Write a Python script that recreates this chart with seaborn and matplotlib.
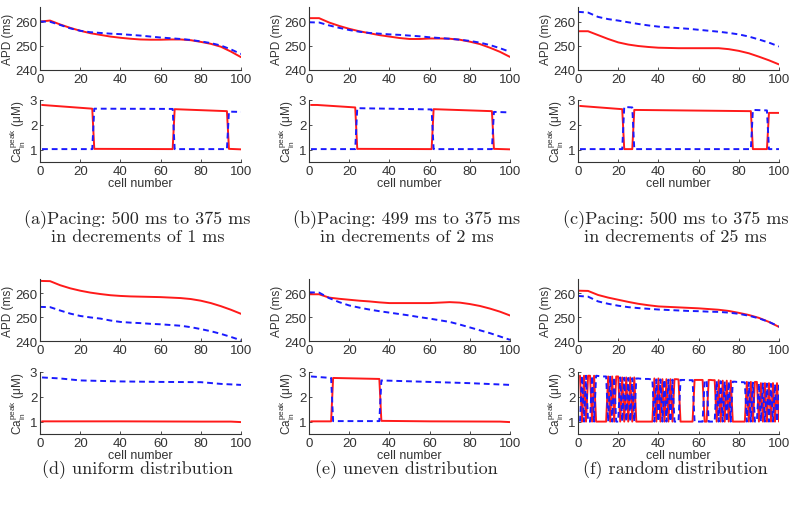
import numpy as np
import matplotlib
matplotlib.use("Agg")
import matplotlib.pyplot as plt
import seaborn as sns

# APD curves, sampled every 5 cells
apd_x = [0, 5, 10, 15, 20, 25, 30, 35, 40, 45, 50, 55, 60, 65, 70, 75, 80, 85, 90, 95, 100]

apd_a_red = [260.0, 260.4, 258.8, 257.4, 256.2, 255.2, 254.5, 253.8, 253.3, 252.9, 252.6,
             252.5, 252.5, 252.6, 252.6, 252.3, 251.6, 250.8, 249.6, 247.6, 245.3]
apd_a_blue = [260.0, 259.9, 258.6, 257.2, 256.2, 255.6, 255.3, 255.0, 254.8, 254.5, 254.2,
              253.8, 253.4, 253.1, 252.8, 252.4, 251.8, 251.1, 250.1, 248.5, 246.6]

apd_b_red = [261.4, 261.4, 259.6, 258.2, 257.0, 256.0, 255.2, 254.4, 253.8, 253.2, 252.8,
             252.8, 253.0, 253.0, 252.9, 252.5, 251.7, 250.7, 249.2, 247.5, 245.4]
apd_b_blue = [259.7, 259.6, 258.4, 257.4, 256.5, 255.8, 255.3, 255.0, 254.7, 254.5, 254.2,
              253.9, 253.5, 253.2, 252.9, 252.5, 252.0, 251.3, 250.3, 249.0, 247.5]

apd_c_red = [256.0, 256.0, 254.4, 252.8, 251.4, 250.5, 249.9, 249.5, 249.2, 249.1, 249.0,
             249.0, 249.0, 249.0, 249.0, 248.6, 247.9, 246.9, 245.5, 244.0, 242.3]
apd_c_blue = [264.0, 263.7, 261.9, 261.0, 260.4, 259.7, 259.0, 258.4, 257.9, 257.6, 257.3,
              257.0, 256.6, 256.2, 255.8, 255.3, 254.7, 253.8, 252.6, 251.3, 249.7]

apd_d_red = [265.2, 265.1, 263.4, 262.1, 261.1, 260.3, 259.7, 259.2, 258.9, 258.7, 258.6,
             258.5, 258.4, 258.2, 258.0, 257.6, 256.9, 255.9, 254.6, 253.1, 251.4]
apd_d_blue = [254.3, 254.2, 252.8, 251.5, 250.5, 249.9, 249.4, 248.6, 248.0, 247.7, 247.5,
              247.2, 247.0, 246.7, 246.4, 245.8, 245.0, 244.1, 243.0, 241.7, 240.3]

apd_e_red = [259.6, 259.6, 258.2, 257.7, 257.3, 256.9, 256.6, 256.2, 255.9, 255.9, 255.9,
             255.9, 255.9, 256.1, 256.3, 256.1, 255.5, 254.7, 253.6, 252.3, 250.7]
apd_e_blue = [260.4, 260.3, 258.0, 256.3, 254.9, 254.0, 253.2, 252.5, 251.9, 251.3, 250.7,
              250.0, 249.4, 248.7, 248.0, 246.9, 245.7, 244.5, 243.3, 241.9, 240.5]

apd_f_red = [261.1, 261.0, 259.3, 258.2, 257.3, 256.4, 255.6, 255.0, 254.5, 254.3, 254.1,
             253.9, 253.7, 253.4, 253.1, 252.6, 251.8, 250.9, 249.7, 248.0, 245.9]
apd_f_blue = [258.9, 258.6, 256.6, 255.6, 254.8, 254.2, 253.8, 253.5, 253.2, 253.0, 252.8,
              252.6, 252.5, 252.3, 252.2, 251.9, 251.4, 250.6, 249.5, 248.0, 246.1]

# Ca peak curves, given at the break points of the steps
ca_a_red_x = [1, 26, 27, 66, 67, 93, 94, 100]
ca_a_red = [2.8, 2.65, 1.03, 1.02, 2.63, 2.55, 1.03, 1.01]
ca_a_blue_x = [1, 26, 27, 66, 67, 93, 94, 100]
ca_a_blue = [1.02, 1.02, 2.65, 2.64, 1.02, 1.02, 2.53, 2.52]

ca_b_red_x = [1, 4, 23, 24, 61, 62, 91, 92, 100]
ca_b_red = [2.8, 2.8, 2.7, 1.03, 1.02, 2.63, 2.55, 1.03, 1.01]
ca_b_blue_x = [1, 23, 24, 61, 62, 91, 92, 100]
ca_b_blue = [1.02, 1.02, 2.67, 2.62, 1.02, 1.02, 2.52, 2.5]

ca_c_red_x = [1, 22, 23, 27, 28, 86, 87, 94, 95, 100]
ca_c_red = [2.76, 2.63, 1.02, 1.02, 2.6, 2.55, 1.02, 1.02, 2.48, 2.48]
ca_c_blue_x = [1, 22, 23, 27, 28, 86, 87, 94, 95, 100]
ca_c_blue = [1.02, 1.02, 2.72, 2.7, 1.02, 1.02, 2.6, 2.58, 1.02, 1.02]

ca_d_red_x = [1, 40, 80, 95, 100]
ca_d_red = [1.01, 1.01, 1.0, 1.0, 0.98]
ca_d_blue_x = [1, 10, 20, 40, 60, 80, 90, 100]
ca_d_blue = [2.78, 2.74, 2.66, 2.62, 2.6, 2.59, 2.52, 2.48]

ca_e_red_x = [1, 11, 12, 35, 36, 60, 95, 100]
ca_e_red = [1.01, 1.01, 2.76, 2.72, 1.03, 1.01, 1.0, 0.98]
ca_e_blue_x = [1, 11, 12, 35, 36, 60, 80, 100]
ca_e_blue = [2.82, 2.76, 1.02, 1.02, 2.66, 2.6, 2.55, 2.48]

ca_f_x = list(range(1, 101))
ca_f_red = [2.85, 1.0, 2.85, 1.0, 2.85, 2.85, 1.0, 2.85, 1.0, 1.0,
            1.0, 1.0, 1.0, 1.0, 2.82, 1.0, 2.82, 1.0, 2.82, 2.82,
            1.0, 2.78, 1.0, 2.78, 1.0, 2.78, 1.0, 2.78, 1.0, 1.0,
            1.0, 1.0, 1.0, 1.0, 1.0, 1.0, 1.0, 2.74, 1.0, 2.74,
            1.0, 2.71, 1.0, 2.71, 1.0, 2.71, 1.0, 2.71, 2.71, 2.7,
            1.0, 1.0, 1.0, 1.0, 1.0, 1.0, 1.0, 2.68, 2.68, 2.68,
            2.68, 2.68, 1.0, 1.0, 2.68, 2.68, 2.67, 2.67, 1.0, 2.67,
            1.0, 2.65, 1.0, 2.65, 1.0, 2.65, 1.0, 1.0, 1.0, 1.0,
            1.0, 1.0, 1.0, 2.6, 1.0, 2.6, 1.0, 2.6, 2.6, 1.0,
            2.55, 1.0, 2.55, 1.0, 2.55, 1.0, 2.55, 1.0, 2.55, 1.0]
ca_f_blue = [1.0, 2.85, 1.0, 2.85, 1.0, 1.0, 2.85, 1.0, 2.85, 2.84,
             2.83, 2.82, 2.82, 2.82, 1.0, 2.81, 1.0, 2.8, 1.0, 1.0,
             2.78, 1.0, 2.77, 1.0, 2.76, 1.0, 2.75, 1.0, 2.74, 2.74,
             2.73, 2.73, 2.72, 2.72, 2.72, 2.71, 2.71, 1.0, 2.7, 1.0,
             2.7, 1.0, 2.7, 1.0, 2.69, 1.0, 2.69, 1.0, 1.0, 1.0,
             2.68, 2.68, 2.68, 2.67, 2.67, 2.67, 2.67, 1.0, 1.0, 1.0,
             1.0, 1.0, 2.66, 2.66, 1.0, 1.0, 1.0, 1.0, 2.64, 1.0,
             2.63, 1.0, 2.62, 1.0, 2.62, 1.0, 2.61, 2.61, 2.6, 2.6,
             2.59, 2.59, 2.58, 1.0, 2.58, 1.0, 2.57, 1.0, 1.0, 2.55,
             1.0, 2.54, 1.0, 2.53, 1.0, 2.52, 1.0, 2.51, 1.0, 2.5]

captions = ["(a)Pacing: 500 ms to 375 ms\nin decrements of 1 ms",
            "(b)Pacing: 499 ms to 375 ms\nin decrements of 2 ms",
            "(c)Pacing: 500 ms to 375 ms\nin decrements of 25 ms",
            "(d) uniform distribution",
            "(e) uneven distribution",
            "(f) random distribution"]

panels = [
    (apd_a_red, apd_a_blue, ca_a_red_x, ca_a_red, ca_a_blue_x, ca_a_blue),
    (apd_b_red, apd_b_blue, ca_b_red_x, ca_b_red, ca_b_blue_x, ca_b_blue),
    (apd_c_red, apd_c_blue, ca_c_red_x, ca_c_red, ca_c_blue_x, ca_c_blue),
    (apd_d_red, apd_d_blue, ca_d_red_x, ca_d_red, ca_d_blue_x, ca_d_blue),
    (apd_e_red, apd_e_blue, ca_e_red_x, ca_e_red, ca_e_blue_x, ca_e_blue),
    (apd_f_red, apd_f_blue, ca_f_x, ca_f_red, ca_f_x, ca_f_blue),
]

sns.set_style("ticks")
plt.rcParams["font.family"] = ["Liberation Sans", "DejaVu Sans"]
plt.rcParams["mathtext.fontset"] = "custom"
plt.rcParams["mathtext.rm"] = "Liberation Sans"

fig = plt.figure(figsize=(8, 5.1), dpi=100)

col_left = [40, 309, 578]
ax_w = 201
# (top of APD axes, bottom of APD axes, top of Ca axes, bottom of Ca axes) in pixels
row_y = [(8, 71, 101, 163), (280, 342, 373, 435)]
cap_y = [228, 470]

W, H = 800.0, 510.0
txt = "#333333"

def style_axes(ax):
    sns.despine(ax=ax)
    ax.set_xlim(0, 100)
    ax.set_xticks([0, 20, 40, 60, 80, 100])
    ax.tick_params(direction="in", length=2, labelsize=9.5, width=0.6,
                   colors="#333333", labelcolor=txt)
    ax.tick_params(axis="x", pad=2)
    ax.tick_params(axis="y", pad=2)
    for s in ["left", "bottom"]:
        ax.spines[s].set_linewidth(0.8)
        ax.spines[s].set_color("#333333")

for i, (r_apd, b_apd, rx, r_ca, bx, b_ca) in enumerate(panels):
    row, col = divmod(i, 3)
    t1, b1, t2, b2 = row_y[row]
    x0 = col_left[col]

    ax1 = fig.add_axes([x0 / W, 1 - b1 / H, ax_w / W, (b1 - t1) / H])
    sns.lineplot(x=apd_x, y=r_apd, ax=ax1, color="#ff1a1a", lw=1.4)
    sns.lineplot(x=apd_x, y=b_apd, ax=ax1, color="#1a1aff", lw=1.4, linestyle=(0, (3, 2)))
    style_axes(ax1)
    ax1.set_ylim(240, 266)
    ax1.set_yticks([240, 250, 260])
    ax1.set_ylabel("APD (ms)", fontsize=8.5, labelpad=1, color=txt)

    ax2 = fig.add_axes([x0 / W, 1 - b2 / H, ax_w / W, (b2 - t2) / H])
    sns.lineplot(x=rx, y=r_ca, ax=ax2, color="#ff1a1a", lw=1.4, sort=False)
    sns.lineplot(x=bx, y=b_ca, ax=ax2, color="#1a1aff", lw=1.4, linestyle=(0, (3, 2)), sort=False)
    style_axes(ax2)
    ax2.set_ylim(0.5, 3)
    ax2.set_yticks([1, 2, 3])
    ax2.set_ylabel(r"Ca$_{\rm in}^{\rm peak}$ (μM)", fontsize=8.5, labelpad=1, color=txt)
    ax2.set_xlabel("cell number", fontsize=9, labelpad=0, color=txt)

    fig.text((x0 + ax_w / 2 - 3) / W, 1 - cap_y[row] / H, captions[i],
             ha="center", va="center", fontsize=13, linespacing=1.05,
             family=["cmr10", "DejaVu Serif"])

fig.savefig("out.png", dpi=100)
